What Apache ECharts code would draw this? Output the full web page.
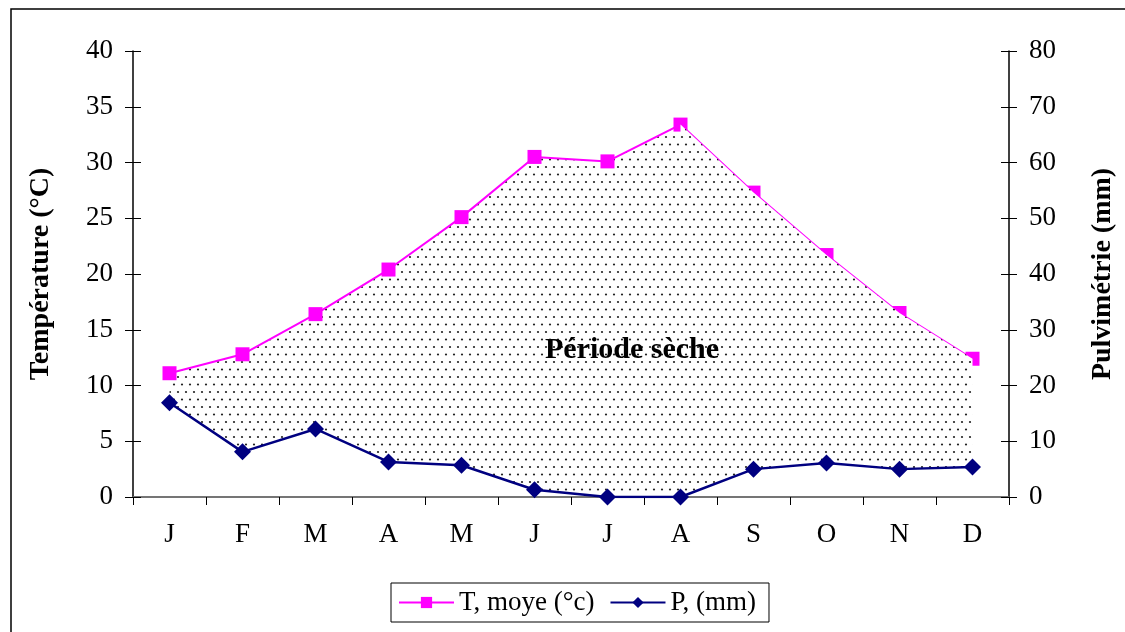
<!DOCTYPE html>
<html><head><meta charset="utf-8">
<script src="https://cdn.jsdelivr.net/npm/echarts@6/dist/echarts.min.js"></script>
<style>html,body{margin:0;padding:0;background:#fff}#c{width:1125px;height:632px}</style>
</head><body><div id="c"></div>
<script>
const months = ['J','F','M','A','M','J','J','A','S','O','N','D'];
const temperature = [11.1, 12.8, 16.4, 20.4, 25.1, 30.5, 30.1, 33.4, 27.3, 21.7, 16.5, 12.4];
const precipitation = [16.9, 8.1, 12.2, 6.3, 5.7, 1.3, 0, 0, 5.0, 6.1, 5.0, 5.4];
const tempTicks = {min: 0, max: 40, interval: 5};
const precTicks = {min: 0, max: 80, interval: 10};
const nameT = 'T, moye (°c)';
const nameP = 'P, (mm)';
const dryLabel = 'Période sèche';
const lastRiseIndex = 7; // August

// dotted pattern
const tile = document.createElement('canvas');
tile.width = 8; tile.height = 15;
const g = tile.getContext('2d');
g.fillStyle = '#fff'; g.fillRect(0,0,8,15);
g.fillStyle = '#222';
g.beginPath(); g.arc(2,2,1.1,0,Math.PI*2); g.fill();
g.beginPath(); g.arc(6,9.5,1.1,0,Math.PI*2); g.fill();

const ratio = tempTicks.max / precTicks.max;
const baseVals = precipitation.map(p => p * ratio);
const diffVals = temperature.map((t,i) => t - baseVals[i]);
const area1 = diffVals.map((v,i) => i <= lastRiseIndex ? v : null);
const area2 = diffVals.map((v,i) => i >= lastRiseIndex ? v : null);

const font = 'Liberation Serif';
const tickFont = {fontFamily: font, fontSize: 27, color: '#000'};
const titleFont = {fontFamily: font, fontSize: 28, fontWeight: 'bold', color: '#000'};
const chart = echarts.init(document.getElementById('c'));
const overlayY = (range, pos) => ({
  type: 'value', min: range.min, max: range.max, interval: range.interval, position: pos, offset: 0,
  axisLine: {show: false}, axisLabel: {show: false}, splitLine: {show: false},
  axisTick: {show: true, inside: true, length: 8, lineStyle: {color: '#000'}}
});
chart.setOption({
  animation: false,
  backgroundColor: '#fff',
  grid: {left: 133, right: 115, top: 51, bottom: 135},
  legend: {
    data: [nameT, nameP],
    left: 391, top: 583,
    padding: [6, 13, 6, 7],
    itemWidth: 55, itemHeight: 14, itemGap: 15,
    borderColor: '#000', borderWidth: 1,
    textStyle: tickFont
  },
  graphic: [
    {type: 'rect', shape: {x: 11, y: 9, width: 1140, height: 650}, style: {fill: 'none', stroke: '#000', lineWidth: 1.5}, silent: true},
    {type: 'text', left: 545, top: 335, z: 100, style: {text: dryLabel, font: 'bold 30px "Liberation Serif"', fill: '#000'}}
  ],
  xAxis: [{
    type: 'category', data: months, boundaryGap: true,
    axisLine: {lineStyle: {color: '#000', width: 1.5}},
    axisTick: {show: true, alignWithLabel: false, length: 8, lineStyle: {color: '#000'}},
    axisLabel: Object.assign({margin: 24}, tickFont),
    splitLine: {show: false}
  }, {
    type: 'category', data: months, position: 'top',
    axisLine: {lineStyle: {color: '#888', width: 1.5}},
    axisTick: {show: false}, axisLabel: {show: false}
  }],
  yAxis: [{
    type: 'value', min: tempTicks.min, max: tempTicks.max, interval: tempTicks.interval,
    name: 'Température (°C)', nameLocation: 'middle', nameGap: 78, nameRotate: 90,
    nameTextStyle: titleFont,
    axisLine: {show: true, lineStyle: {color: '#000', width: 1.5}},
    axisTick: {show: true, length: 8, lineStyle: {color: '#000'}},
    axisLabel: Object.assign({margin: 20}, tickFont),
    splitLine: {show: false}
  }, {
    type: 'value', min: precTicks.min, max: precTicks.max, interval: precTicks.interval,
    name: 'Pulvimétrie (mm)', nameLocation: 'middle', nameGap: 80, nameRotate: 90,
    nameTextStyle: titleFont,
    axisLine: {show: true, lineStyle: {color: '#000', width: 1.5}},
    axisTick: {show: true, length: 8, lineStyle: {color: '#000'}},
    axisLabel: Object.assign({margin: 20}, tickFont),
    splitLine: {show: false}
  }, overlayY(tempTicks, 'left'), overlayY(precTicks, 'right')],
  series: [
    {name: 'base1', type: 'line', stack: 'a', data: baseVals, symbol: 'none', lineStyle: {opacity: 0}, silent: true, z: 1},
    {name: 'dry1', type: 'line', stack: 'a', data: area1, symbol: 'none', lineStyle: {opacity: 0},
     areaStyle: {color: {image: tile, repeat: 'repeat'}, opacity: 1}, silent: true, z: 1},
    {name: nameT, type: 'line', data: temperature, yAxisIndex: 0, symbol: 'rect', symbolSize: 14,
     itemStyle: {color: '#FF00FF'}, lineStyle: {color: '#FF00FF', width: 2}, z: 2},
    {name: 'base2', type: 'line', stack: 'b', data: baseVals, symbol: 'none', lineStyle: {opacity: 0}, silent: true, z: 3},
    {name: 'dry2', type: 'line', stack: 'b', data: area2, symbol: 'none', lineStyle: {opacity: 0},
     areaStyle: {color: {image: tile, repeat: 'repeat'}, opacity: 1}, silent: true, z: 3},
    {name: nameP, type: 'line', data: precipitation, yAxisIndex: 1, symbol: 'diamond', symbolSize: 17,
     itemStyle: {color: '#000080'}, lineStyle: {color: '#000080', width: 2.5}, z: 4}
  ]
});
</script></body></html>
